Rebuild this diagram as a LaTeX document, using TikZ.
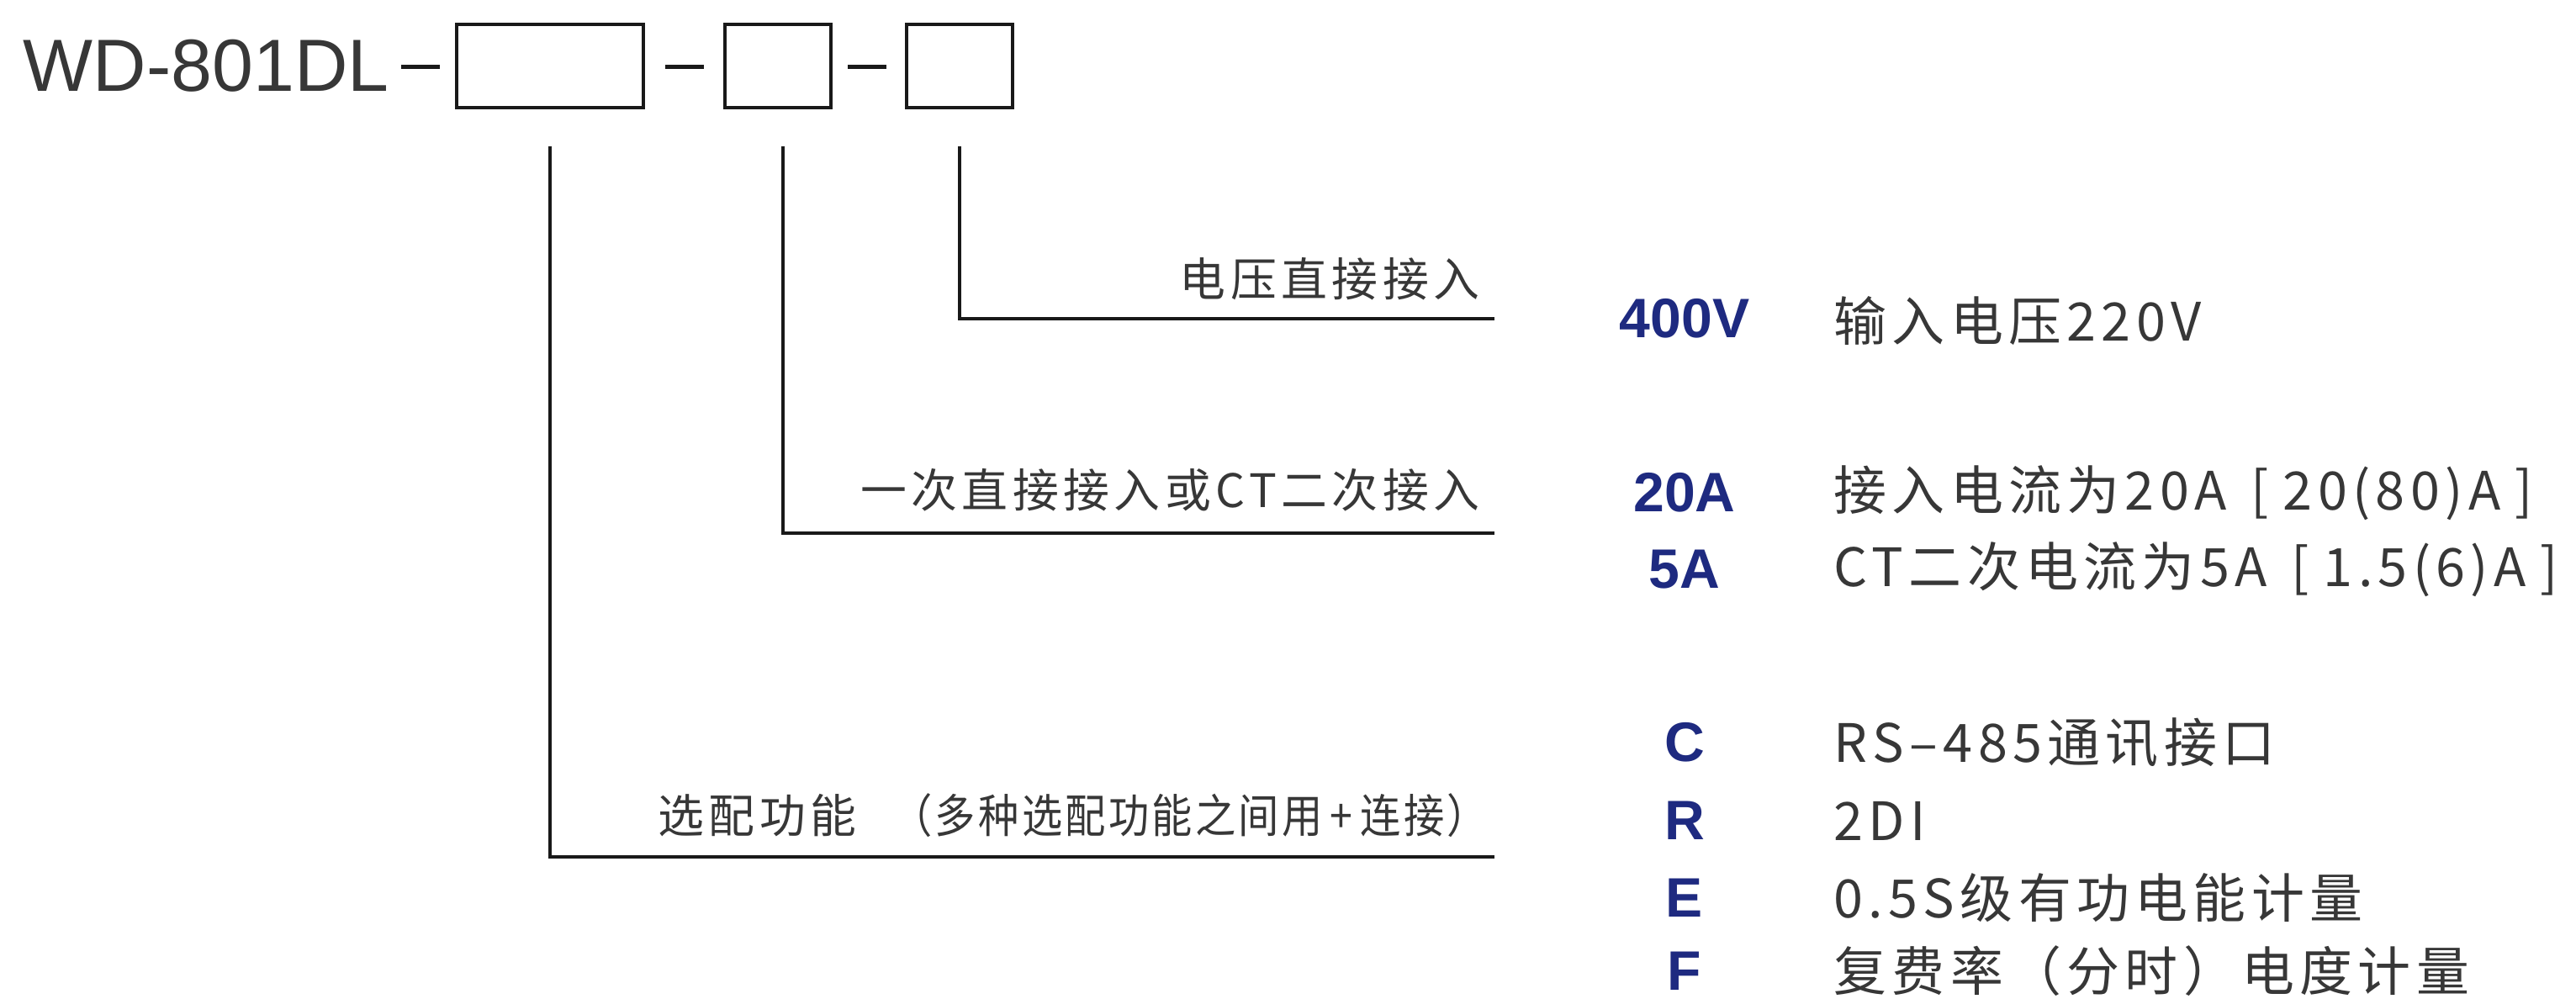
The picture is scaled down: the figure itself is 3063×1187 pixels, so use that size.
\documentclass[tikz,border=0pt]{standalone}
\usepackage{fontspec}
\setmainfont{Liberation Sans}
\newfontfamily\cjk[LetterSpace=10]{Noto Sans CJK SC}
\newfontfamily\cjknarrow[LetterSpace=6,FakeStretch=0.88]{Noto Sans CJK SC}
\newcommand\rng[1]{\hspace{0.29cm}[\hspace{0.17cm}#1\hspace{0.17cm}]}
\definecolor{codeblue}{RGB}{30,42,128}
\definecolor{txtgray}{RGB}{55,55,55}
\definecolor{linegray}{RGB}{25,25,25}
\tikzset{
  model/.style={font=\fontsize{25}{30}\selectfont, text=txtgray, inner sep=0pt, anchor=west},
  slot/.style={draw=linegray, line width=1pt, inner sep=0pt, minimum height=0.99cm},
  hyph/.style={fill=linegray, inner sep=0pt, minimum width=0.45cm, minimum height=0.05cm},
  lead/.style={draw=linegray, line width=1.2pt},
  lbl/.style={font=\cjk\fontsize{15.6}{18}\selectfont, text=txtgray, inner sep=0pt, anchor=east},
  code/.style={font=\bfseries\fontsize{18.8}{22}\selectfont, text=codeblue, inner sep=0pt},
  desc/.style={font=\cjk\fontsize{17.9}{21}\selectfont, text=txtgray, inner sep=0pt, anchor=west}
}
\begin{document}
\begin{tikzpicture}[x=0.01cm,y=-0.01cm]
\useasboundingbox (0,0) rectangle (3063,1187);
\node[model] (model) at (27,78) {WD-801DL};
\node[hyph] (h1) at (500,79) {};
\node[slot, minimum width=2.22cm] (s1) at (654,78.5) {};
\node[hyph] (h2) at (814,79) {};
\node[slot, minimum width=1.26cm] (s2) at (925,78.5) {};
\node[hyph] (h3) at (1031,79) {};
\node[slot, minimum width=1.26cm] (s3) at (1141,78.5) {};

\coordinate (e3) at (1777,379);
\coordinate (e2) at (1777,634);
\coordinate (e1) at (1777,1019);
\draw[lead] ([yshift=-0.44cm]s3.south) |- (e3);
\draw[lead] ([xshift=0.06cm,yshift=-0.44cm]s2.south) |- (e2);
\draw[lead] ([yshift=-0.44cm]s1.south) |- (e1);

\node[lbl] (l3) at (1760,332) {电压直接接入};
\node[lbl] (l2) at (1760,583) {一次直接接入或CT二次接入};
\node[lbl] (l1) at (1770,970) {选配功能\hspace{0.42cm}{\cjknarrow （多种选配功能之间用\,+\,连接）}};

\node[code] (k400) at (2003,379) {400V};
\node[code] (k20) at (2003,586) {20A};
\node[code] (k5) at (2003,677) {5A};
\node[code] (kc) at (2003,883) {C};
\node[code] (kr) at (2003,976) {R};
\node[code] (ke) at (2003,1068) {E};
\node[code] (kf) at (2003,1155) {F};

\node[desc] (d400) at (2180,381) {输入电压220V};
\node[desc] (d20) at (2180,586) {接入电流为20A\rng{20(80)A}};
\node[desc] (d5) at (2180,677) {CT二次电流为5A\rng{1.5(6)A}};
\node[desc] (dc) at (2180,883) {RS–485通讯接口};
\node[desc] (dr) at (2180,976) {2DI};
\node[desc] (de) at (2180,1068) {0.5S级有功电能计量};
\node[desc] (df) at (2180,1155) {复费率（分时）电度计量};
\end{tikzpicture}
\end{document}
